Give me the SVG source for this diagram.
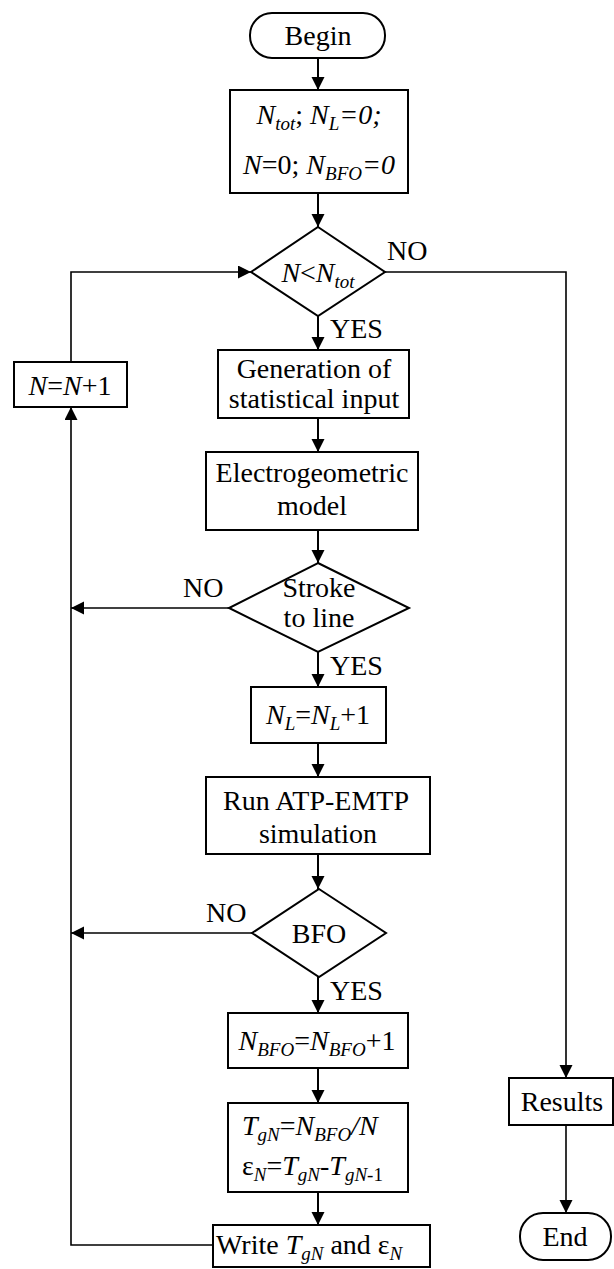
<svg xmlns="http://www.w3.org/2000/svg" width="614" height="1269" viewBox="0 0 614 1269">
<style>
.s{fill:#fff;stroke:#000;stroke-width:2}
.c{fill:none;stroke:#000;stroke-width:2}
.l{fill:none;stroke:#000;stroke-width:1.6}
.t{font-family:"Liberation Serif","Times New Roman",serif;font-size:28px;fill:#000}
.m{text-anchor:middle}
.i{font-style:italic}
.b{font-size:19px;font-style:italic}
</style>
<defs>
<marker id="a" markerUnits="userSpaceOnUse" markerWidth="14" markerHeight="14" refX="13" refY="6.5" orient="auto">
<path d="M0,0 L13,6.5 L0,13 z" fill="#000"/>
</marker>
</defs>
<g id="connectors">
<path class="c" d="M318,58 V90" marker-end="url(#a)"/>
<path class="c" d="M318,193 V227" marker-end="url(#a)"/>
<path class="c" d="M318,316 V350" marker-end="url(#a)"/>
<path class="c" d="M318,418 V452" marker-end="url(#a)"/>
<path class="c" d="M318,530 V563" marker-end="url(#a)"/>
<path class="c" d="M318,652 V687" marker-end="url(#a)"/>
<path class="c" d="M318,743 V777" marker-end="url(#a)"/>
<path class="c" d="M318,854 V889" marker-end="url(#a)"/>
<path class="c" d="M318,977 V1013" marker-end="url(#a)"/>
<path class="c" d="M318,1068 V1103" marker-end="url(#a)"/>
<path class="c" d="M318,1192 V1225" marker-end="url(#a)"/>
<path class="l" d="M385,272 H566 V1078" marker-end="url(#a)"/>
<path class="l" d="M566,1125 V1213" marker-end="url(#a)"/>
<path class="l" d="M229,608 H71" marker-end="url(#a)"/>
<path class="l" d="M252,933 H71" marker-end="url(#a)"/>
<path class="l" d="M213,1245 H71 V407" marker-end="url(#a)"/>
<path class="l" d="M71,362 V272 H251" marker-end="url(#a)"/>
<text class="t" x="387" y="260">NO</text>
<text class="t" x="330" y="338">YES</text>
<text class="t" x="183" y="597">NO</text>
<text class="t" x="330" y="675">YES</text>
<text class="t" x="206" y="922">NO</text>
<text class="t" x="330" y="1000">YES</text>
</g>
<g id="begin">
<rect class="s" x="250" y="13" width="135" height="45" rx="22"/>
<text class="t m" x="318" y="45">Begin</text>
</g>
<g id="init">
<rect class="s" x="230" y="90" width="178" height="103"/>
<text class="t m" x="319" y="124"><tspan class="i">N</tspan><tspan class="b" dy="6">tot</tspan><tspan dy="-6">; </tspan><tspan class="i">N</tspan><tspan class="b" dy="6">L</tspan><tspan class="i" dy="-6">=0;</tspan></text>
<text class="t m" x="319" y="174"><tspan class="i">N</tspan><tspan>=0; </tspan><tspan class="i">N</tspan><tspan class="b" dy="6">BFO</tspan><tspan class="i" dy="-6">=0</tspan></text>
</g>
<g id="cond-n">
<polygon class="s" points="318,227 385,272 318,316 251,272"/>
<text class="t m" x="318" y="282"><tspan class="i">N</tspan><tspan>&lt;</tspan><tspan class="i">N</tspan><tspan class="b" dy="6">tot</tspan></text>
</g>
<g id="inc-n">
<rect class="s" x="14" y="362" width="113" height="45"/>
<text class="t m" x="70" y="395"><tspan class="i">N</tspan>=<tspan class="i">N</tspan>+1</text>
</g>
<g id="generation">
<rect class="s" x="218" y="350" width="191" height="68"/>
<text class="t m" x="314" y="378">Generation of</text>
<text class="t m" x="314" y="408">statistical input</text>
</g>
<g id="electro">
<rect class="s" x="206" y="452" width="212" height="78"/>
<text class="t m" x="312" y="482">Electrogeometric</text>
<text class="t m" x="312" y="515">model</text>
</g>
<g id="stroke">
<polygon class="s" points="318,563 409,608 318,652 229,608"/>
<text class="t m" x="319" y="597">Stroke</text>
<text class="t m" x="319" y="627">to line</text>
</g>
<g id="inc-nl">
<rect class="s" x="251" y="687" width="135" height="56"/>
<text class="t m" x="318" y="724"><tspan class="i">N</tspan><tspan class="b" dy="6">L</tspan><tspan dy="-6">=</tspan><tspan class="i">N</tspan><tspan class="b" dy="6">L</tspan><tspan dy="-6">+1</tspan></text>
</g>
<g id="run">
<rect class="s" x="206" y="777" width="224" height="77"/>
<text class="t m" x="316" y="810">Run ATP-EMTP</text>
<text class="t m" x="318" y="843">simulation</text>
</g>
<g id="bfo">
<polygon class="s" points="319,889 386,933 319,977 252,933"/>
<text class="t m" x="319" y="943">BFO</text>
</g>
<g id="inc-nbfo">
<rect class="s" x="228" y="1013" width="180" height="55"/>
<text class="t m" x="317" y="1050"><tspan class="i">N</tspan><tspan class="b" dy="6">BFO</tspan><tspan dy="-6">=</tspan><tspan class="i">N</tspan><tspan class="b" dy="6">BFO</tspan><tspan dy="-6">+1</tspan></text>
</g>
<g id="compute">
<rect class="s" x="228" y="1103" width="180" height="89"/>
<text class="t" x="242" y="1135"><tspan class="i">T</tspan><tspan class="b" dy="6">gN</tspan><tspan dy="-6">=</tspan><tspan class="i">N</tspan><tspan class="b" dy="6">BFO</tspan><tspan class="i" dy="-6">/N</tspan></text>
<text class="t" x="242" y="1175"><tspan>ε</tspan><tspan class="b" dy="6">N</tspan><tspan dy="-6">=</tspan><tspan class="i">T</tspan><tspan class="b" dy="6">gN</tspan><tspan dy="-6">-</tspan><tspan class="i">T</tspan><tspan class="b" dy="6">gN</tspan><tspan font-size="19">-1</tspan></text>
</g>
<g id="write">
<rect class="s" x="213" y="1225" width="217" height="42"/>
<text class="t" x="216" y="1254"><tspan>Write </tspan><tspan class="i">T</tspan><tspan class="b" dy="6">gN</tspan><tspan dy="-6"> and ε</tspan><tspan class="b" dy="6">N</tspan></text>
</g>
<g id="results">
<rect class="s" x="509" y="1078" width="104" height="47"/>
<text class="t m" x="562" y="1111">Results</text>
</g>
<g id="end">
<rect class="s" x="520" y="1213" width="91" height="47" rx="23"/>
<text class="t m" x="565" y="1246">End</text>
</g>
</svg>
